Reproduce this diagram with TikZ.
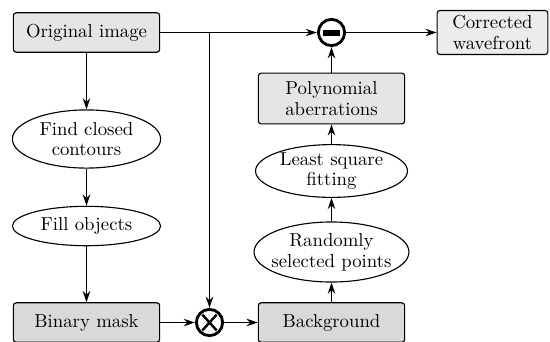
\documentclass[tikz,border=0pt]{standalone}
\usetikzlibrary{arrows.meta,shapes.geometric}

\begin{document}
\begin{tikzpicture}[x=0.533pt,y=-0.533pt,
    >={Stealth[length=6pt,width=4pt,inset=2pt]},
    line width=0.6pt]

    \tikzset{
      block/.style={
        draw,
        rounded corners=1.5pt,
        fill=gray!20,
        inner sep=0pt,
        minimum width=78pt,
        minimum height=21pt,
        align=center,
        font={\fontsize{10}{11}\selectfont},
      },
      darkblock/.style={block,fill=gray!30},
      oval/.style={
        draw,
        ellipse,
        fill=white,
        inner sep=0pt,
        inner xsep=-2.8pt,
        minimum width=79pt,
        minimum height=22pt,
        align=center,
        font={\fontsize{10}{11}\selectfont},
      },
      op/.style={
        circle,
        draw,
        line width=1.5pt,
        fill=white,
        minimum size=14pt,
        inner sep=0pt,
      },
    }
    \useasboundingbox (0,0) rectangle (550,341);
    \clip (0,0) rectangle (550,341);

	% left column
	\node[block] (orig) at (86.5,32.5) {Original image};
	\node[oval,minimum height=31pt] (find) at (86.5,139) {Find closed\\contours};
	\node[oval,minimum height=21pt] (fill) at (86.5,226) {Fill objects};
	\node[darkblock] (mask) at (86.5,322.5) {Binary mask};

	% operators
	\node[op,path picture={
	    \draw[black,line width=1.3pt]
	      ([shift={(-3.8pt,-4.2pt)}]path picture bounding box.center) --
	      ([shift={(3.8pt,4.2pt)}]path picture bounding box.center)
	      ([shift={(-3.8pt,4.2pt)}]path picture bounding box.center) --
	      ([shift={(3.8pt,-4.2pt)}]path picture bounding box.center);
	  }] (cross) at (209.5,322.5) {};
	\node[op,path picture={
	    \fill[black] ([shift={(-4.3pt,-1.6pt)}]path picture bounding box.center)
	      rectangle ([shift={(4.3pt,1.6pt)}]path picture bounding box.center);
	  }] (minus) at (331.5,32.5) {};

	% right column
	\node[darkblock] (bg) at (331.5,322.5) {Background};
	\node[oval,minimum width=81pt,minimum height=32pt] (rand) at (331.5,252) {Randomly\\selected points};
	\node[oval,minimum width=81pt,minimum height=25.5pt] (lsq) at (331.5,171) {Least square\\fitting};
	\node[block,minimum height=27pt] (poly) at (331.5,98.5) {Polynomial\\aberrations};
	\node[block,fill=gray!15,minimum width=59pt,minimum height=23.5pt] (corr) at (492.5,32.5) {Corrected\\wavefront};

	\coordinate (split) at (209.5,32.5);

	% connectors
	\draw[->] (orig) -- (minus);
	\draw[->] (split) -- (cross);
	\draw[->] (orig) -- (find);
	\draw[->] (find) -- (fill);
	\draw[->] (fill) -- (mask);
	\draw[->] (mask) -- (cross);
	\draw[->] (cross) -- (bg);
	\draw[->] (bg) -- (rand);
	\draw[->] (rand) -- (lsq);
	\draw[->] (lsq) -- (poly);
	\draw[->] (poly) -- (minus);
	\draw[->] (minus) -- (corr);

\end{tikzpicture}
\end{document}
